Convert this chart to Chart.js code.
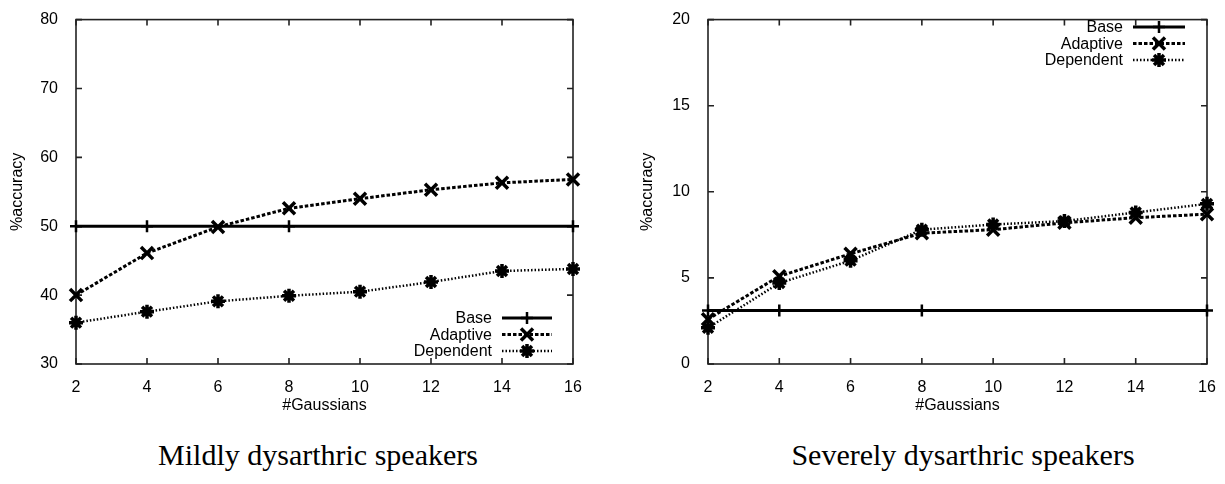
<!doctype html>
<html lang="en">
<head>
<meta charset="utf-8">
<title>Accuracy vs #Gaussians</title>
<style>
  body{margin:0;background:#fff;}
  .box{position:absolute;top:0;}
  .cap{position:absolute;top:437px;width:600px;text-align:center;color:#000;
       font-family:"Liberation Serif","Times New Roman",serif;font-size:30px;line-height:36px;}
</style>
</head>
<body>
<div class="box" style="left:0px"><canvas id="chartMild" width="610" height="420"></canvas></div>
<div class="box" style="left:612px"><canvas id="chartSevere" width="613" height="420"></canvas></div>
<div class="cap" style="left:18px">Mildly dysarthric speakers</div>
<div class="cap" style="left:663px">Severely dysarthric speakers</div>

<script src="https://cdn.jsdelivr.net/npm/chart.js"></script>
<script>
// data
const gaussians = [2, 4, 6, 8, 10, 12, 14, 16];
const baseX = [2, 4, 8, 16];          // Base markers only show at these
const xTicks = [2, 4, 6, 8, 10, 12, 14, 16];
const seriesNames = ['Base', 'Adaptive', 'Dependent'];

const mildBase = [50, 50, 50, 50];
const mildAdaptive = [40.0, 46.1, 49.9, 52.6, 54.0, 55.3, 56.3, 56.8];
const mildDependent = [36.0, 37.6, 39.1, 39.9, 40.5, 41.9, 43.5, 43.8];
const mildYTicks = [30, 40, 50, 60, 70, 80];

const severeBase = [3.1, 3.1, 3.1, 3.1];
const severeAdaptive = [2.6, 5.1, 6.4, 7.6, 7.8, 8.2, 8.5, 8.7];
const severeDependent = [2.1, 4.7, 6.0, 7.8, 8.1, 8.3, 8.8, 9.3];
const severeYTicks = [0, 5, 10, 15, 20];

const FONT = '"Liberation Sans", Arial, Helvetica, sans-serif';
const INK = '#000';

function pts(xs, ys){
  return xs.map(function(x, i){ return {x: x, y: ys[i]}; });
}

function makeSets(base, adaptive, dependent){
  return [{
    label: seriesNames[0], data: pts(baseX, base),
    borderColor: INK, backgroundColor: INK, borderWidth: 3,
    pointStyle: 'cross', pointRadius: 6, pointBorderWidth: 2.5, clip: false
  }, {
    label: seriesNames[1], data: pts(gaussians, adaptive),
    borderColor: INK, backgroundColor: INK, borderWidth: 3, borderDash: [3.5, 2],
    pointStyle: 'crossRot', pointRadius: 8.5, pointBorderWidth: 3.5, clip: false
  }, {
    label: seriesNames[2], data: pts(gaussians, dependent),
    borderColor: INK, backgroundColor: INK, borderWidth: 2.5, borderDash: [1.5, 2],
    pointStyle: 'star', pointRadius: 7, pointBorderWidth: 3.5, clip: false
  }];
}

// gnuplot style box: frame, inward ticks on all sides, legend inside
const gnuBox = {
  id: 'gnuBox',
  beforeDatasetsDraw(chart){
    const ctx = chart.ctx, a = chart.chartArea;
    const xs = chart.scales.x, ys = chart.scales.y;
    ctx.save();
    ctx.strokeStyle = '#222';
    ctx.lineWidth = 1.6;
    ctx.strokeRect(a.left, a.top, a.right - a.left, a.bottom - a.top);
    ctx.beginPath();
    xs.ticks.forEach(function(t){
      const px = xs.getPixelForValue(t.value);
      ctx.moveTo(px, a.bottom); ctx.lineTo(px, a.bottom - 6);
      ctx.moveTo(px, a.top); ctx.lineTo(px, a.top + 6);
    });
    ys.ticks.forEach(function(t){
      const py = ys.getPixelForValue(t.value);
      ctx.moveTo(a.left, py); ctx.lineTo(a.left + 6, py);
      ctx.moveTo(a.right, py); ctx.lineTo(a.right - 6, py);
    });
    ctx.stroke();
    ctx.restore();
  },
  afterDraw(chart, args, opts){
    const ctx = chart.ctx;
    ctx.save();
    ctx.font = '16px ' + FONT;
    ctx.fillStyle = INK;
    ctx.textAlign = 'right';
    ctx.textBaseline = 'middle';
    chart.data.datasets.forEach(function(ds, i){
      const y = opts.top + i * opts.gap;
      ctx.fillText(ds.label, opts.textRight, y + 1);
      ctx.strokeStyle = INK;
      ctx.lineWidth = ds.borderWidth;
      ctx.setLineDash(ds.borderDash || []);
      ctx.beginPath();
      ctx.moveTo(opts.lineLeft, y);
      ctx.lineTo(opts.lineRight, y);
      ctx.stroke();
      ctx.setLineDash([]);
      ctx.lineWidth = ds.pointBorderWidth;
      Chart.helpers.drawPoint(ctx, {
        pointStyle: ds.pointStyle, radius: ds.pointRadius,
        borderWidth: ds.pointBorderWidth, rotation: 0
      }, (opts.lineLeft + opts.lineRight) / 2, y);
    });
    ctx.restore();
  }
};

function drawChart(id, sets, yTicks, axisW, padRight, titlePad, legend){
  const tickFont = {family: FONT, size: 16};
  const config = {
    type: 'line',
    data: {datasets: sets},
    options: {
      responsive: false,
      animation: false,
      layout: {padding: {top: 14, right: padRight, bottom: 0, left: 0}},
      elements: {line: {tension: 0}},
      plugins: {legend: {display: false}, tooltip: {enabled: false}, gnuBox: legend},
      scales: {
        x: {
          type: 'linear', min: xTicks[0], max: xTicks[xTicks.length - 1],
          afterBuildTicks: function(s){ s.ticks = xTicks.map(function(v){ return {value: v}; }); },
          afterFit: function(s){ s.height = 56; },
          grid: {display: false}, border: {display: false},
          ticks: {color: INK, font: tickFont, padding: 6, maxRotation: 0},
          title: {display: true, text: '#Gaussians', color: INK, font: tickFont, padding: {top: 2, bottom: 5}}
        },
        y: {
          min: yTicks[0], max: yTicks[yTicks.length - 1],
          afterBuildTicks: function(s){ s.ticks = yTicks.map(function(v){ return {value: v}; }); },
          afterFit: function(s){ s.width = axisW; },
          grid: {display: false}, border: {display: false},
          ticks: {color: INK, font: tickFont, padding: 10},
          title: {display: true, text: '%accuracy', color: INK, font: tickFont, padding: {top: titlePad, bottom: 0}}
        }
      }
    },
    plugins: [gnuBox]
  };
  return new Chart(document.getElementById(id), config);
}

drawChart('chartMild', makeSets(mildBase, mildAdaptive, mildDependent), mildYTicks,
  76, 37, 8, {textRight: 492, lineLeft: 502, lineRight: 552, top: 318, gap: 16.5});

drawChart('chartSevere', makeSets(severeBase, severeAdaptive, severeDependent), severeYTicks,
  96, 18, 26, {textRight: 511, lineLeft: 521, lineRight: 573, top: 27, gap: 16.5});
</script>
</body>
</html>
